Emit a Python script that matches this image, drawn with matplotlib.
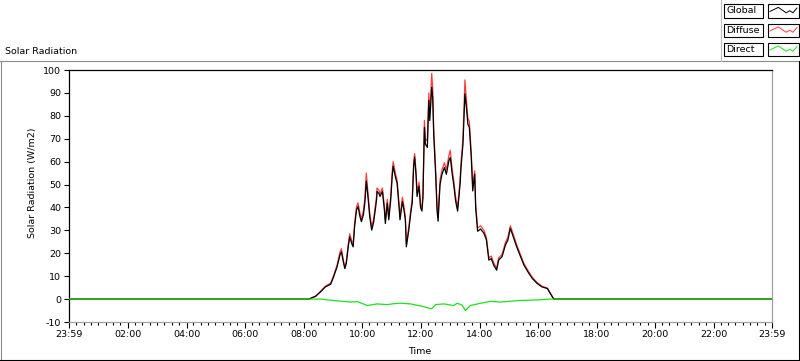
import matplotlib
matplotlib.use("Agg")
import matplotlib.pyplot as plt
from matplotlib.lines import Line2D
from matplotlib.patches import Rectangle
import numpy as np

plt.rcParams['font.family'] = ['DejaVu Sans']

# ---------------- data ----------------
rad_times = ["00:00", "08:10", "08:24", "08:34", "08:44", "08:55", "09:01", "09:08", "09:14", "09:17",
             "09:21", "09:24", "09:27", "09:31", "09:34", "09:38", "09:41", "09:44", "09:48", "09:51",
             "09:55", "09:58", "10:02", "10:05", "10:08", "10:12", "10:15", "10:19", "10:23", "10:29",
             "10:30", "10:34", "10:36", "10:41", "10:45", "10:47", "10:51", "10:54", "10:58", "11:01",
             "11:03", "11:08", "11:11", "11:15", "11:17", "11:22", "11:25", "11:28", "11:30", "11:35",
             "11:39", "11:42", "11:45", "11:47", "11:50", "11:52", "11:56", "11:59", "12:02", "12:04",
             "12:07", "12:09", "12:13", "12:16", "12:18", "12:22", "12:24", "12:26", "12:30", "12:33",
             "12:35", "12:39", "12:43", "12:48", "12:52", "12:57", "13:00", "13:04", "13:07", "13:11",
             "13:15", "13:20", "13:22", "13:26", "13:30", "13:33", "13:36", "13:39", "13:43", "13:46",
             "13:50", "13:52", "13:56", "14:02", "14:09", "14:14", "14:19", "14:24", "14:29", "14:35",
             "14:39", "14:46", "14:53", "14:58", "15:03", "15:09", "15:16", "15:24", "15:31", "15:39",
             "15:48", "15:58", "16:08", "16:19", "16:25", "16:32", "23:59"]

global_vals = [0, 0, 1.2, 3.1, 5.3, 6.5, 9.7, 14.0, 19.2, 20.6,
               16.2, 13.3, 15.5, 22.8, 27.2, 24.3, 22.8, 31.6, 39.0, 40.4,
               36.0, 33.8, 36.8, 41.9, 51.5, 43.3, 36.0, 30.1, 33.5, 43.3,
               47.0, 46.0, 44.8, 47.0, 39.0, 33.0, 41.9, 34.6, 43.3, 53.6,
               58.0, 52.9, 50.7, 40.4, 34.6, 42.6, 39.0, 34.6, 22.8, 30.1,
               37.5, 41.9, 58.0, 62.0, 53.6, 44.8, 49.2, 40.0, 38.4, 44.3,
               75.0, 67.7, 66.2, 86.7, 77.9, 92.5, 88.0, 72.0, 54.5, 38.4,
               34.0, 50.0, 54.5, 57.4, 54.5, 60.3, 61.8, 54.5, 50.0, 42.7,
               38.4, 50.0, 57.4, 67.7, 89.6, 83.8, 76.4, 75.0, 61.8, 47.2,
               54.5, 39.9, 29.6, 30.6, 28.7, 25.8, 17.0, 17.7, 14.8, 12.6,
               17.0, 18.5, 23.6, 25.8, 30.9, 27.2, 22.8, 18.5, 14.8, 11.9,
               9.0, 6.8, 5.3, 4.6, 2.4, 0, 0]

diffuse_vals = [0, 0, 1.3, 3.3, 5.6, 7.0, 10.3, 14.8, 20.5, 22.0,
                17.0, 14.0, 16.5, 24.0, 28.5, 25.5, 24.0, 33.0, 40.5, 42.0,
                37.5, 35.0, 38.5, 44.0, 55.0, 45.0, 37.5, 31.5, 35.0, 45.0,
                48.5, 47.5, 46.0, 48.5, 40.5, 34.5, 43.5, 36.0, 45.0, 55.5,
                60.0, 54.5, 52.0, 42.0, 36.0, 44.5, 40.5, 36.0, 24.0, 31.5,
                39.0, 43.5, 60.0, 63.5, 55.5, 46.5, 51.0, 41.5, 40.0, 46.0,
                78.0, 70.0, 69.0, 90.0, 81.0, 98.5, 92.0, 75.0, 57.0, 40.5,
                36.0, 52.0, 56.5, 59.5, 56.5, 62.5, 65.0, 56.5, 52.0, 44.5,
                40.0, 52.0, 59.5, 70.5, 95.7, 87.0, 79.0, 77.5, 64.0, 49.0,
                56.0, 41.5, 31.0, 32.0, 30.0, 27.0, 18.0, 18.8, 15.8, 13.5,
                18.0, 19.5, 24.8, 27.0, 32.0, 28.3, 23.8, 19.3, 15.5, 12.5,
                9.5, 7.2, 5.6, 4.8, 2.6, 0, 0]

direct_times = ["00:00", "08:10", "08:34", "09:01", "09:20", "09:35", "09:50", "10:10", "10:30", "10:50",
                "11:05", "11:18", "11:39", "11:50", "12:06", "12:13", "12:22", "12:30", "12:47", "13:07",
                "13:14", "13:24", "13:31", "13:41", "14:02", "14:22", "14:43", "15:05", "15:24", "16:04",
                "16:25", "23:59"]
direct_vals = [0, 0, 0, -0.6, -1.0, -1.3, -1.1, -2.8, -2.1, -2.4,
               -2.0, -1.8, -2.1, -2.6, -3.3, -3.8, -4.2, -2.4, -2.1, -2.8,
               -1.8, -2.6, -5.0, -2.8, -1.8, -1.0, -1.3, -0.9, -0.6, -0.3,
               0, 0]

x_tick_labels = ["23:59", "02:00", "04:00", "06:00", "08:00", "10:00", "12:00",
                 "14:00", "16:00", "18:00", "20:00", "22:00", "23:59"]
y_ticks = [-10, 0, 10, 20, 30, 40, 50, 60, 70, 80, 90, 100]
series_names = ["Global", "Diffuse", "Direct"]
series_colors = ["#000000", "#ff3c3c", "#1ee01e"]


def to_hours(s):
    h, m = s.split(":")
    return int(h) + int(m) / 60.0


t_rad = np.array([to_hours(s) for s in rad_times])
t_dir = np.array([to_hours(s) for s in direct_times])

W, H = 800, 361
fig = plt.figure(figsize=(W / 100, H / 100), dpi=100)
fig.patch.set_facecolor("white")
FS = 6.8


def fx(px):
    return px / W


def fy(py):
    return 1 - py / H


ax = fig.add_axes([fx(69), fy(322), fx(772) - fx(69), fy(70) - fy(322)])
ax.set_facecolor("white")

lw = 0.9
ax.plot(t_rad, diffuse_vals, color=series_colors[1], lw=lw, zorder=2)
ax.plot(t_rad, global_vals, color=series_colors[0], lw=lw, zorder=3)
ax.plot(t_dir, direct_vals, color=series_colors[2], lw=lw, zorder=4)

x0 = -1 / 60.0
x1 = 24 - 1 / 60.0
ax.set_xlim(x0, x1)
ax.set_ylim(-10, 100)

major_x = [x0] + list(range(2, 23, 2)) + [x1]
ax.set_xticks(major_x)
ax.set_xticklabels(x_tick_labels, fontsize=FS)
minor_x = [x0 + k * 0.25 for k in range(97) if k % 8 != 0]
ax.set_xticks(minor_x, minor=True)
ax.set_yticks(y_ticks)
ax.set_yticklabels([str(v) for v in y_ticks], fontsize=FS)

ax.tick_params(axis="x", which="major", direction="out", length=4.3, width=0.8, pad=1.5, colors="black")
ax.tick_params(axis="x", which="minor", direction="out", length=2.2, width=0.8, colors="black")
ax.tick_params(axis="y", which="major", direction="out", length=3.6, width=0.8, pad=2, colors="black")

for side, col in [("left", "black"), ("top", "black"), ("right", "#a0a0a0"), ("bottom", "#a0a0a0")]:
    ax.spines[side].set_color(col)
    ax.spines[side].set_linewidth(0.9)

# axis labels
fig.text(fx(420), fy(352), "Time", ha="center", va="center", fontsize=FS)
fig.text(fx(33), fy(183), "Solar Radiation (W/m2)", ha="center", va="center",
         rotation=90, fontsize=FS)

# title
fig.text(fx(5), fy(51), "Solar Radiation", ha="left", va="center", fontsize=FS)

# panel border
def fline(xs, ys, color, lw=0.8):
    fig.add_artist(Line2D([fx(v) for v in xs], [fy(v) for v in ys], color=color, lw=lw,
                          transform=fig.transFigure))

fline([0, 798], [61, 61], "#8a8a8a")
fline([1, 1], [61, 359], "#8a8a8a")
fline([798.5, 798.5], [61, 359], "black")
fline([0, 799], [359.5, 359.5], "black")
fline([720.5, 720.5], [0, 61], "#c0c0c0")

# legend
box_rows = [(4, 17.5), (23.5, 37), (42.5, 56)]
for name, col, (ya, yb) in zip(series_names, series_colors, box_rows):
    fig.add_artist(Rectangle((fx(724), fy(yb)), fx(763) - fx(724), fy(ya) - fy(yb),
                             fill=False, edgecolor="black", lw=0.8, transform=fig.transFigure))
    fig.text(fx(726.5), fy((ya + yb) / 2), name, ha="left", va="center", fontsize=FS)
    fig.add_artist(Rectangle((fx(767.5), fy(yb)), fx(798.5) - fx(767.5), fy(ya) - fy(yb),
                             fill=False, edgecolor="black", lw=0.8, transform=fig.transFigure))
    zx = [0.08, 0.35, 0.6, 0.72, 0.82, 0.95]
    zy = [0.45, 0.75, 0.35, 0.5, 0.35, 0.7]
    px = [767.5 + a * 31 for a in zx]
    py = [yb - b * (yb - ya) for b in zy]
    fline(px, py, col, lw=0.7)

fig.savefig("out.png", dpi=100, facecolor="white")
